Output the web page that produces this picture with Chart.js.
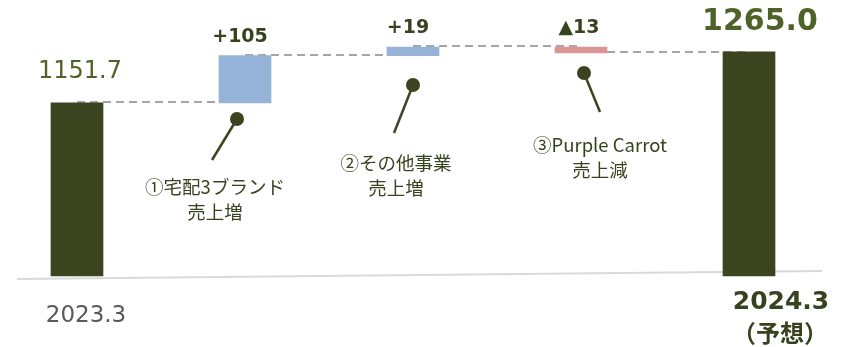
<!DOCTYPE html>
<html>
<head>
<meta charset="utf-8">
<script src="https://cdn.jsdelivr.net/npm/chart.js@4"></script>
<style>
  body { margin: 0; background: #fff; }
  #wrap { width: 845px; height: 347px; }
</style>
</head>
<body>
<div id="wrap"><canvas id="waterfall"></canvas></div>
<script>
// data
var categories = ["2023.3", "①宅配3ブランド売上増", "②その他事業売上増", "③Purple Carrot売上減", "2024.3（予想）"];
var values = [1151.7, 105, 19, -13, 1265.0];
var isTotal = [true, false, false, false, true];
var valueLabels = ["1151.7", "+105", "+19", "▲13", "1265.0"];
var calloutText = [null, ["①宅配3ブランド", "売上増"], ["②その他事業", "売上増"], ["③Purple Carrot", "売上減"], null];
var axisLabels = [["2023.3"], [], [], [], ["2024.3", "（予想）"]];

var Y_MIN = 767;
var Y_MAX = 1336;

var DARK = "#3a4520";
var OLIVE = "#4f6228";
var TEXT_DARK = "#37431e";

// build floating bars
var running = 0;
var barData = [];
var starts = [];
var ends = [];
var barColors = [];
for (var i = 0; i < values.length; i++) {
    if (isTotal[i]) {
        barData.push([Y_MIN, values[i]]);
        starts.push(values[i]);
        ends.push(values[i]);
        running = values[i];
        barColors.push(DARK);
    } else {
        barData.push([running, running + values[i]]);
        starts.push(running);
        running += values[i];
        ends.push(running);
        barColors.push(values[i] >= 0 ? "#95b3d7" : "#d99694");
    }
}

// label / callout placement (px, relative to bar centre)
var labelStyle = [
    { dx: 3, dy: -31, font: "normal 24px 'DejaVu Sans'", color: OLIVE },
    { dx: -5, dy: -19, font: "bold 19px 'DejaVu Sans'", color: TEXT_DARK },
    { dx: -5, dy: -19, font: "bold 19px 'DejaVu Sans'", color: TEXT_DARK },
    { dx: -2, dy: -19, font: "bold 19px 'DejaVu Sans'", color: TEXT_DARK },
    { dx: 11, dy: -30, font: "bold 30px 'DejaVu Sans'", color: OLIVE }
];
var calloutStyle = [
    null,
    { dot: [-8, 119], end: [-33, 160], text: [-30, 187] },
    { dot: [0, 85], end: [-19, 133], text: [-17, 163] },
    { dot: [3, 73], end: [19, 112], text: [19, 145] },
    null
];
var axisStyle = [
    { dx: 9, y: 316, fonts: ["normal 23px 'DejaVu Sans'"], color: "#595959", lh: 0 },
    null, null, null,
    { dx: 32, y: 302, fonts: ["bold 25px 'DejaVu Sans'", "bold 24px 'Noto Sans CJK JP'"], color: TEXT_DARK, lh: 31 }
];

var waterfallPlugin = {
    id: "waterfall",
    beforeDatasetsDraw: function(chart) {
        var ctx = chart.ctx;
        var meta = chart.getDatasetMeta(0);
        var area = chart.chartArea;
        var y = chart.scales.y;
        ctx.save();

        // baseline, slightly tilted like the original
        ctx.strokeStyle = "#d9d9d9";
        ctx.lineWidth = 2;
        ctx.beginPath();
        ctx.moveTo(17, area.bottom + 3);
        ctx.lineTo(822, area.bottom - 5);
        ctx.stroke();

        // dashed connectors
        ctx.strokeStyle = "#a6a6a6";
        ctx.lineWidth = 2;
        ctx.setLineDash([8, 5]);
        for (var i = 0; i < meta.data.length - 1; i++) {
            var a = meta.data[i], b = meta.data[i + 1];
            var py = Math.round(y.getPixelForValue(ends[i]));
            ctx.beginPath();
            ctx.moveTo(a.x, py - 1);
            ctx.lineTo(b.x, py - 1);
            ctx.stroke();
        }
        ctx.restore();
    },
    afterDatasetsDraw: function(chart) {
        var ctx = chart.ctx;
        var meta = chart.getDatasetMeta(0);
        var y = chart.scales.y;
        ctx.save();
        ctx.textAlign = "center";
        ctx.textBaseline = "middle";

        for (var i = 0; i < meta.data.length; i++) {
            var bar = meta.data[i];
            var top = y.getPixelForValue(Math.max(starts[i], ends[i]));

            // value labels
            var ls = labelStyle[i];
            ctx.font = ls.font;
            ctx.fillStyle = ls.color;
            ctx.fillText(valueLabels[i], bar.x + ls.dx, top + ls.dy);

            // callouts
            var cs = calloutStyle[i];
            if (cs) {
                ctx.strokeStyle = DARK;
                ctx.fillStyle = DARK;
                ctx.lineWidth = 2.5;
                ctx.beginPath();
                ctx.moveTo(bar.x + cs.dot[0], cs.dot[1]);
                ctx.lineTo(bar.x + cs.end[0], cs.end[1]);
                ctx.stroke();
                ctx.beginPath();
                ctx.arc(bar.x + cs.dot[0], cs.dot[1], 7, 0, Math.PI * 2);
                ctx.fill();
                ctx.font = "normal 18.5px 'Noto Sans CJK JP'";
                ctx.fillStyle = TEXT_DARK;
                for (var k = 0; k < calloutText[i].length; k++) {
                    ctx.fillText(calloutText[i][k], bar.x + cs.text[0], cs.text[1] + k * 25);
                }
            }

            // category labels under the totals
            var as = axisStyle[i];
            if (as) {
                ctx.fillStyle = as.color;
                for (var j = 0; j < axisLabels[i].length; j++) {
                    ctx.font = as.fonts[j];
                    ctx.fillText(axisLabels[i][j], bar.x + as.dx - j, as.y + j * as.lh);
                }
            }
        }
        ctx.restore();
    }
};

var chart = new Chart(document.getElementById("waterfall").getContext("2d"), {
    type: "bar",
    data: {
        labels: categories,
        datasets: [
            {
                data: barData,
                backgroundColor: barColors,
                borderWidth: 0,
                barThickness: 52,
                clip: false
            }
        ]
    },
    options: {
        responsive: true,
        maintainAspectRatio: false,
        animation: false,
        layout: {
            padding: { left: 77, right: 96, top: 20, bottom: 71 }
        },
        plugins: {
            legend: { display: false },
            tooltip: { enabled: false }
        },
        scales: {
            x: {
                display: false,
                offset: false
            },
            y: {
                display: false,
                min: Y_MIN,
                max: Y_MAX
            }
        }
    },
    plugins: [waterfallPlugin]
});
</script>
</body>
</html>
